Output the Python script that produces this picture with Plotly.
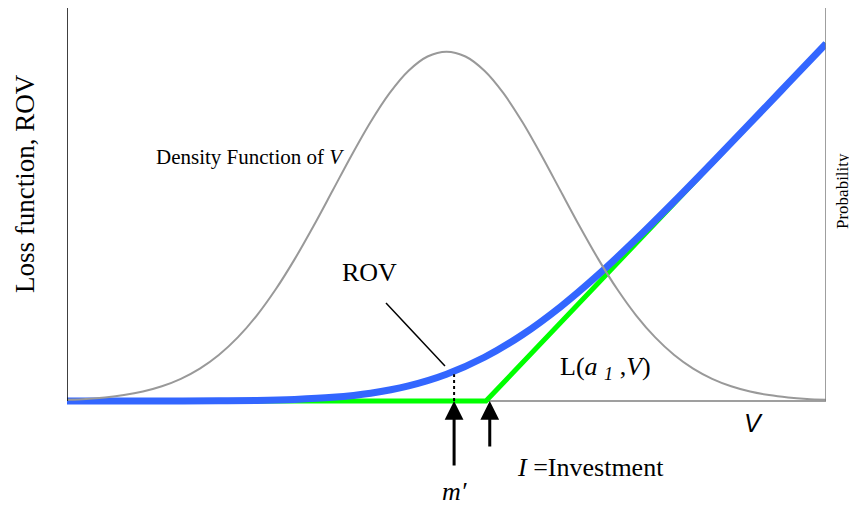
import plotly.graph_objects as go

# V axis positions for the density curve (0 = left edge of the plot, 1 = right edge)
dens_v = [0.000, 0.025, 0.050, 0.075, 0.100, 0.125, 0.150, 0.175, 0.200, 0.225,
          0.250, 0.275, 0.300, 0.325, 0.350, 0.375, 0.400, 0.425, 0.450, 0.475,
          0.500, 0.525, 0.550, 0.575, 0.600, 0.625, 0.650, 0.675, 0.700, 0.725,
          0.750, 0.775, 0.800, 0.825, 0.850, 0.875, 0.900, 0.925, 0.950, 0.975, 1.000]

# Density function of V (grey bell curve)
density = [0.0032, 0.0055, 0.0093, 0.0152, 0.0242, 0.0375, 0.0564, 0.0824, 0.1171, 0.1619,
           0.2175, 0.2843, 0.3611, 0.4460, 0.5356, 0.6253, 0.7098, 0.7832, 0.8403, 0.8766,
           0.889,
           0.8766, 0.8403, 0.7832, 0.7098, 0.6253, 0.5356, 0.4460, 0.3611, 0.2843, 0.2175,
           0.1619, 0.1171, 0.0824, 0.0564, 0.0375, 0.0242, 0.0152, 0.0093, 0.0055, 0.0032]

# ROV (blue smooth curve)
rov_v = [0.00, 0.05, 0.10, 0.15, 0.20, 0.25, 0.30, 0.35, 0.40, 0.45, 0.50,
         0.55, 0.60, 0.65, 0.70, 0.75, 0.80, 0.85, 0.90, 0.95, 1.00]
rov = [0.0, 0.0, 0.0, 0.0002, 0.0006, 0.0015, 0.0041, 0.0094, 0.0200, 0.0387, 0.0683,
       0.1114, 0.1687, 0.2395, 0.3216, 0.4121, 0.5078, 0.6066, 0.7070, 0.8081, 0.9095]

# L(a1, V) loss function (green kinked line)
loss_v = [0.0, 0.552, 1.0]
loss = [0.0, 0.0, 0.909]

m_prime = 0.51
investment = 0.557
rov_at_m = 0.068

SERIF = "Liberation Serif"

fig = go.Figure()
fig.add_trace(go.Scatter(x=loss_v, y=loss, mode="lines",
                         line=dict(color="#00ff00", width=5), hoverinfo="skip"))
fig.add_trace(go.Scatter(x=rov_v, y=rov, mode="lines",
                         line=dict(color="#3366ff", width=7, shape="spline"), hoverinfo="skip"))
fig.add_trace(go.Scatter(x=dens_v, y=density, mode="lines",
                         line=dict(color="#999999", width=2, shape="spline", smoothing=0.8),
                         hoverinfo="skip"))

# axis frame: black left, grey bottom and right
fig.add_shape(type="line", x0=0, x1=1, y0=0, y1=0, line=dict(color="#7f7f7f", width=1.5), layer="below")
fig.add_shape(type="line", x0=0, x1=0, y0=0, y1=1, line=dict(color="black", width=1.5))
fig.add_shape(type="line", x0=1, x1=1, y0=0, y1=1, line=dict(color="#7f7f7f", width=1.5))

# dotted drop from ROV at m' and the ROV leader line
fig.add_shape(type="line", x0=m_prime, x1=m_prime, y0=0, y1=rov_at_m,
              line=dict(color="black", width=2, dash="dot"))
fig.add_shape(type="line", x0=0.4203, x1=0.498, y0=0.2494, y1=0.0891,
              line=dict(color="black", width=1.5))

# arrows
fig.add_annotation(x=m_prime, y=0, ax=0, ay=66, text="", showarrow=True,
                   arrowhead=2, arrowsize=1.25, arrowwidth=3, arrowcolor="black", standoff=0)
fig.add_annotation(x=investment, y=0, ax=0, ay=47, text="", showarrow=True,
                   arrowhead=2, arrowsize=1.25, arrowwidth=3, arrowcolor="black", standoff=0)

# labels inside the plot (data coords)
labels = [
    (0.241, 0.621, "Density Function of <i>V</i>", 21),
    (0.399, 0.326, "ROV", 26),
    (0.709, 0.084, "L(<i>a</i> <i><sub>1</sub></i> ,<i>V</i>)", 26),
]
for x, y, txt, size in labels:
    fig.add_annotation(x=x, y=y, text=txt, showarrow=False, xanchor="center", yanchor="middle",
                       font=dict(family=SERIF, size=size, color="black"))

# labels below the plot (x in data, y in paper)
below = [
    (0.690, -0.1535, "<i>I</i> =Investment", 26, SERIF),
    (0.511, -0.2150, "<i>m′</i>", 26, SERIF),
    (0.904, -0.0429, "<i>V</i>", 25, "Liberation Sans"),
]
for x, y, txt, size, fam in below:
    fig.add_annotation(x=x, xref="x", y=y, yref="paper", text=txt, showarrow=False,
                       xanchor="center", yanchor="middle",
                       font=dict(family=fam, size=size, color="black"))

fig.add_annotation(xref="paper", yref="paper", x=-0.0553, y=0.558, text="Loss function, ROV",
                   textangle=-90, showarrow=False, xanchor="center", yanchor="middle",
                   font=dict(family=SERIF, size=27, color="black"))
fig.add_annotation(xref="paper", yref="paper", x=1.0210, y=0.540, text="Probability",
                   textangle=-90, showarrow=False, xanchor="center", yanchor="middle",
                   font=dict(family=SERIF, size=17, color="black"))

# page body has an 8px margin, so the figure is sized and padded for it
fig.update_layout(
    width=849,
    height=498,
    margin=dict(l=59, r=31, t=0, b=100),
    paper_bgcolor="white",
    plot_bgcolor="white",
    showlegend=False,
)
fig.update_xaxes(range=[0, 1], showgrid=False, zeroline=False, showticklabels=False, showline=False)
fig.update_yaxes(range=[-0.0126, 1], showgrid=False, zeroline=False, showticklabels=False, showline=False)

fig.write_html("out.html")
